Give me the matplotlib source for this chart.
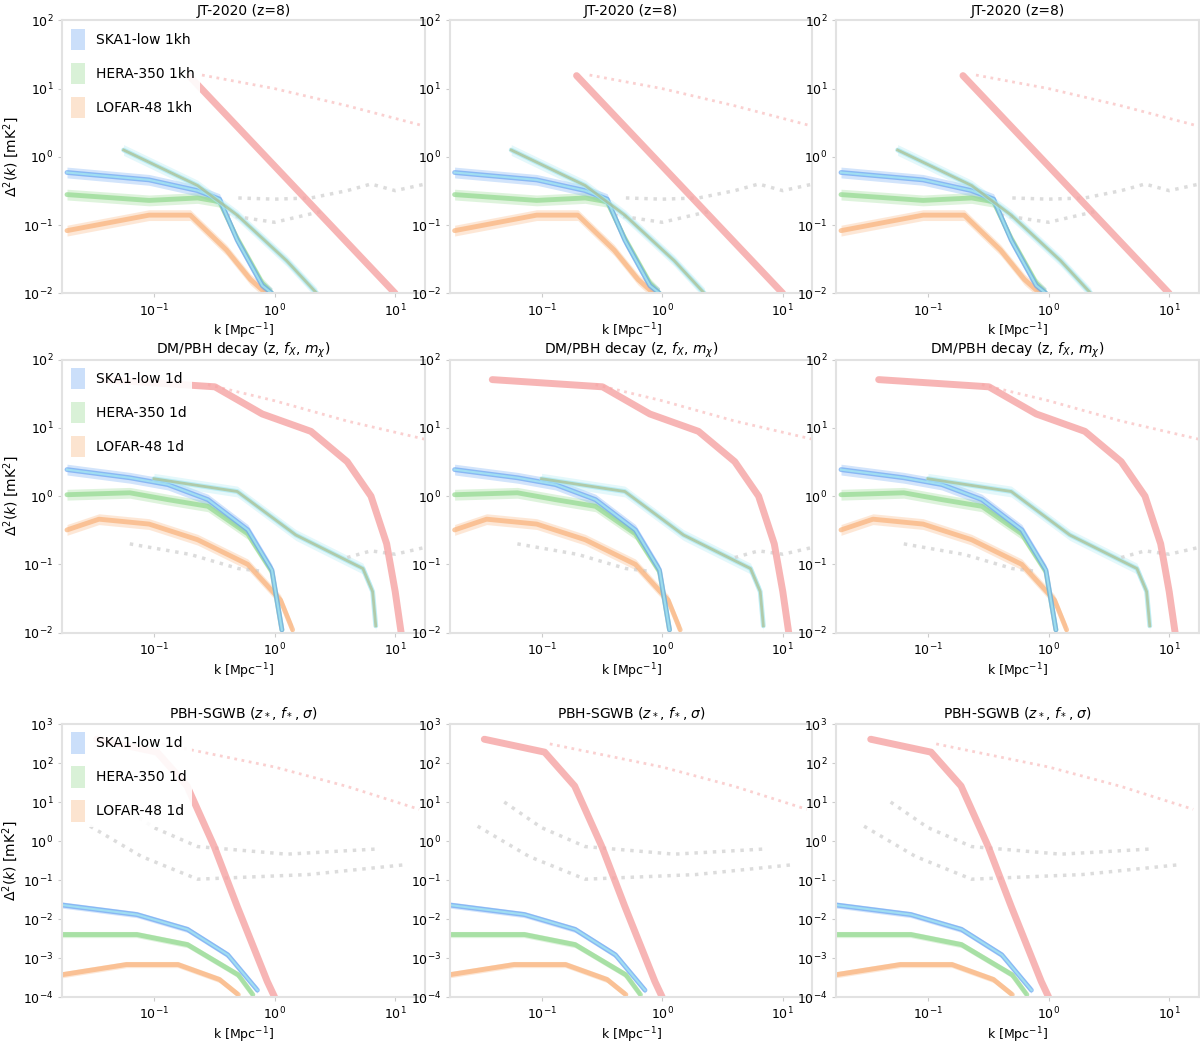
import matplotlib
matplotlib.use("Agg")
import matplotlib.pyplot as plt
from matplotlib.patches import Patch

# --- data (k in Mpc^-1, power in mK^2) ---
titles = ["JT-2020 (z=8)", "DM/PBH decay (z, $f_X$, $m_\\chi$)", "PBH-SGWB ($z_*$, $f_*$, $\\sigma$)"]
legend_labels = [
    ["SKA1-low 1kh", "HERA-350 1kh", "LOFAR-48 1kh"],
    ["SKA1-low 1d", "HERA-350 1d", "LOFAR-48 1d"],
    ["SKA1-low 1d", "HERA-350 1d", "LOFAR-48 1d"],
]
ylims = [(1e-2, 1e2), (1e-2, 1e2), (1e-4, 1e3)]

# row 1
r1_blue_k = [0.019, 0.091, 0.23, 0.35, 0.49, 0.79, 0.95]
r1_blue_p = [0.59, 0.46, 0.32, 0.24, 0.060, 0.013, 0.010]
r1_green_k = [0.019, 0.091, 0.23, 0.35, 0.49, 0.79, 0.95]
r1_green_p = [0.28, 0.23, 0.25, 0.22, 0.063, 0.014, 0.010]
r1_orange_k = [0.019, 0.091, 0.2, 0.4, 0.63, 0.85]
r1_orange_p = [0.083, 0.14, 0.14, 0.043, 0.016, 0.010]
r1_second_k = [0.056, 0.23, 0.49, 1.26, 2.24]
r1_second_p = [1.26, 0.38, 0.14, 0.030, 0.010]
r1_red_k = [0.195, 10.0]
r1_red_p = [15.5, 0.01]
r1_reddot_k = [0.25, 1.0, 4.0, 17.8]
r1_reddot_p = [15.8, 10.0, 5.6, 2.8]
r1_greyA_k = [0.5, 1.0, 2.0, 4.0, 6.3, 10.0, 17.8]
r1_greyA_p = [0.25, 0.24, 0.25, 0.32, 0.40, 0.32, 0.40]
r1_greyB_k = [0.4, 1.0, 2.5]
r1_greyB_p = [0.14, 0.11, 0.16]

# row 2
r2_blue_k = [0.019, 0.063, 0.13, 0.28, 0.6, 0.95, 1.15]
r2_blue_p = [2.45, 1.86, 1.48, 0.89, 0.32, 0.083, 0.011]
r2_green_k = [0.019, 0.063, 0.13, 0.28, 0.6, 0.95, 1.15]
r2_green_p = [1.05, 1.12, 0.89, 0.71, 0.28, 0.079, 0.011]
r2_orange_k = [0.019, 0.035, 0.091, 0.23, 0.6, 1.12, 1.41]
r2_orange_p = [0.32, 0.46, 0.39, 0.23, 0.10, 0.030, 0.011]
r2_second_k = [0.1, 0.49, 1.5, 5.4, 6.5, 6.9]
r2_second_p = [1.8, 1.17, 0.27, 0.087, 0.04, 0.0126]
r2_red_k = [0.039, 0.32, 0.79, 2.0, 4.0, 6.3, 8.5, 10.0, 11.2]
r2_red_p = [51, 40, 16, 8.9, 3.2, 1.0, 0.2, 0.04, 0.01]
r2_reddot_k = [0.28, 1.0, 4.0, 17.8]
r2_reddot_p = [43, 25, 12.6, 6.8]
r2_greyA_k = [0.063, 0.2, 0.5, 0.8]
r2_greyA_p = [0.2, 0.14, 0.087, 0.079]
r2_greyB_k = [4.0, 6.3, 10.0, 17.8]
r2_greyB_p = [0.126, 0.158, 0.141, 0.178]

# row 3
r3_blue_k = [0.017, 0.072, 0.19, 0.41, 0.72]
r3_blue_p = [0.023, 0.013, 0.0054, 0.0012, 1.5e-4]
r3_green_k = [0.017, 0.072, 0.19, 0.5, 0.66]
r3_green_p = [0.004, 0.004, 0.0022, 3.7e-4, 1.15e-4]
r3_orange_k = [0.017, 0.059, 0.158, 0.35, 0.5]
r3_orange_p = [3.7e-4, 6.8e-4, 6.8e-4, 2.8e-4, 1.15e-4]
r3_red_k = [0.0335, 0.106, 0.188, 0.316, 0.49, 0.87, 1.0]
r3_red_p = [407, 190, 25.7, 0.72, 0.021, 2.5e-4, 1e-4]
r3_reddot_k = [0.117, 1.0, 4.0, 15.8]
r3_reddot_p = [309, 79, 25, 6.5]
r3_greyA_k = [0.049, 0.1, 0.23, 1.26, 6.8]
r3_greyA_p = [10, 2.2, 0.72, 0.46, 0.62]
r3_greyB_k = [0.0295, 0.079, 0.23, 1.9, 12.6]
r3_greyB_p = [2.4, 0.4, 0.105, 0.138, 0.25]

rows = [
    dict(blue=(r1_blue_k, r1_blue_p), green=(r1_green_k, r1_green_p), orange=(r1_orange_k, r1_orange_p),
         second=(r1_second_k, r1_second_p), red=(r1_red_k, r1_red_p), reddot=(r1_reddot_k, r1_reddot_p),
         greys=[(r1_greyA_k, r1_greyA_p), (r1_greyB_k, r1_greyB_p)]),
    dict(blue=(r2_blue_k, r2_blue_p), green=(r2_green_k, r2_green_p), orange=(r2_orange_k, r2_orange_p),
         second=(r2_second_k, r2_second_p), red=(r2_red_k, r2_red_p), reddot=(r2_reddot_k, r2_reddot_p),
         greys=[(r2_greyA_k, r2_greyA_p), (r2_greyB_k, r2_greyB_p)]),
    dict(blue=(r3_blue_k, r3_blue_p), green=(r3_green_k, r3_green_p), orange=(r3_orange_k, r3_orange_p),
         second=None, red=(r3_red_k, r3_red_p), reddot=(r3_reddot_k, r3_reddot_p),
         greys=[(r3_greyA_k, r3_greyA_p), (r3_greyB_k, r3_greyB_p)]),
]

colors = {"blue": "#6aa6f2", "green": "#92d98e", "orange": "#f9b27a", "cyan": "#a6e8f2",
          "olive": "#a9b57a", "red": "#f6a3a3", "grey": "#d4d4d4"}

fig = plt.figure(figsize=(12, 10.44), dpi=100)
lefts = [0.052, 0.375, 0.697]
bottoms = [0.719, 0.394, 0.045]
w, h = 0.302, 0.2615
xlim = (0.0174, 17.6)


def band(ax, k, p, c, lw=3.5):
    lo = [v / 1.2 for v in p]
    hi = [v * 1.2 for v in p]
    ax.fill_between(k, lo, hi, color=c, alpha=0.3, lw=0)
    ax.plot(k, p, color=c, lw=lw, alpha=0.7, solid_capstyle="round", solid_joinstyle="round")


for r, d in enumerate(rows):
    for c in range(3):
        ax = fig.add_axes([lefts[c], bottoms[r], w, h])
        ax.set_xscale("log")
        ax.set_yscale("log")

        for gk, gp in d["greys"]:
            ax.plot(gk, gp, color=colors["grey"], lw=2.5, ls=":", alpha=0.8)
        ax.plot(*d["reddot"], color=colors["red"], lw=2.0, ls=":", alpha=0.5)

        band(ax, *d["orange"], colors["orange"])
        band(ax, *d["green"], colors["green"])
        band(ax, *d["blue"], colors["blue"])
        ax.plot(*d["blue"], color=colors["cyan"], lw=1.5, alpha=0.8)
        if d["second"] is not None:
            band(ax, *d["second"], colors["cyan"])
            ax.plot(*d["second"], color=colors["olive"], lw=2.0, alpha=0.6)
        ax.plot(*d["red"], color=colors["red"], lw=5, alpha=0.8,
                solid_capstyle="round", solid_joinstyle="round")

        ax.set_xlim(*xlim)
        ax.set_ylim(*ylims[r])
        ax.set_xticks([0.1, 1, 10])
        ax.minorticks_off()
        ax.tick_params(labelsize=9, length=3, color="#cccccc")
        for s in ax.spines.values():
            s.set_color("#e2e2e2")
            s.set_linewidth(1.5)
        ax.set_title(titles[r], fontsize=10, pad=4)
        ax.set_xlabel("k [Mpc$^{-1}$]", fontsize=9, labelpad=2)
        if c == 0:
            ax.set_ylabel("$\\Delta^2(k)$ [mK$^2$]", fontsize=10, labelpad=2)
            handles = [Patch(facecolor=colors[n], alpha=0.35, edgecolor="none")
                       for n in ("blue", "green", "orange")]
            leg = ax.legend(handles, legend_labels[r], loc="upper left", fontsize=10,
                            handlelength=1.0, handleheight=2.0, labelspacing=0.9,
                            frameon=True, borderaxespad=0.2)
            leg.get_frame().set_edgecolor("none")
            leg.get_frame().set_alpha(0.9)

fig.savefig("out.png", dpi=100)
